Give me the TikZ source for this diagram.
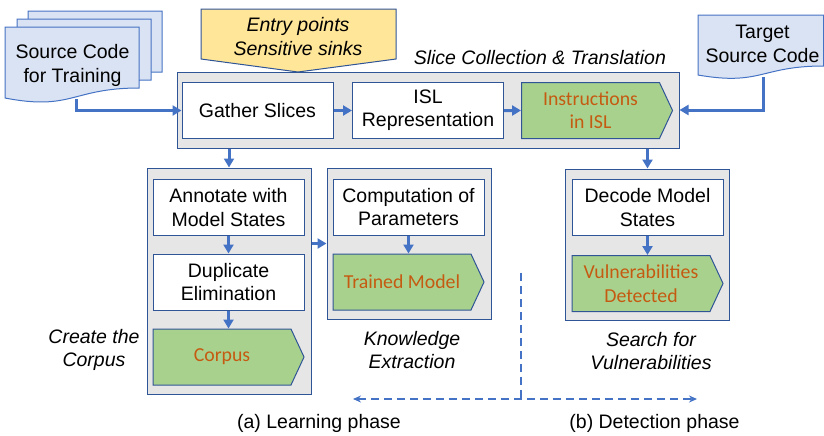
\documentclass[tikz,border=0pt]{standalone}
\usepackage{fontspec}
\setmainfont{Liberation Sans}
\newfontfamily\calibri{Carlito}
\usetikzlibrary{arrows.meta,shapes.symbols}
\definecolor{linkblue}{HTML}{4472C4}
\definecolor{edgeblue}{HTML}{2F5597}
\definecolor{docfill}{HTML}{DAE3F3}
\definecolor{panelfill}{HTML}{E7E6E6}
\definecolor{resultfill}{HTML}{A9D18E}
\definecolor{resulttext}{HTML}{C55A11}
\definecolor{hintfill}{HTML}{FFE699}
\begin{document}
\begin{tikzpicture}[x=0.5pt, y=-0.5pt, >={Triangle[length=4.5pt,width=5pt]},
  font=\fontsize{9.75}{11.7}\selectfont,
  panelbox/.style={draw=edgeblue, line width=0.5pt, fill=panelfill, minimum width=82pt, inner sep=0pt},
  stepbox/.style={draw=edgeblue, line width=0.5pt, fill=white, minimum width=75.5pt, minimum height=28pt, align=center, inner sep=0pt},
  resultbox/.style={stepbox, signal, signal to=east, signal pointer angle=130, fill=resultfill, text=resulttext, font=\calibri\fontsize{9.9}{11.7}\selectfont},
  docbox/.style={draw=linkblue, line width=0.5pt, fill=docfill},
  hintbox/.style={draw=edgeblue, line width=0.5pt, fill=hintfill},
  caption/.style={font=\itshape\fontsize{9.75}{11.7}\selectfont, align=center},
  link/.style={->, linkblue, line width=1.5pt},
  phase/.style={linkblue, line width=0.6pt, dash pattern=on 4pt off 2.5pt}]
\useasboundingbox (0,0) rectangle (824,435);
% source documents
\foreach \l/\t in {28/11, 17/19, 5/27}
  \draw [docbox] (\l,\t) -- ({\l+134},\t) -- ({\l+134},{\t+61})
    .. controls ({\l+67},{\t+61}) and ({\l+67},{\t+84}) .. (\l,{\t+71}) -- cycle;
\node [align=center] (src) at (72.5,65.5) {Source Code\\for Training};
\draw [docbox] (698,15) -- (823.5,15) -- (823.5,66)
  .. controls (761,66) and (761,86) .. (698,75) -- cycle;
\node [align=center] (tgt) at (762.5,44) {Target\\Source Code};
\coordinate (src-foot) at (76,99);
\coordinate (tgt-foot) at (763,77);
% hints
\draw [hintbox] (201,9) -- (396,9) -- (396,59) -- (298,72) -- (201,59) -- cycle;
\node [caption] (hint) at (298,36.5) {Entry points\\Sensitive sinks};
% panels
\node [panelbox, minimum width=251pt, minimum height=38pt] (slice) at (428,110) {};
\node [panelbox, minimum height=113pt] (corpusbox) at (229,281) {};
\node [panelbox, minimum height=75.5pt] (knowbox) at (409,243.5) {};
\node [panelbox, minimum height=75.5pt] (searchbox) at (647.5,244.5) {};
% steps
\node [stepbox] (gather) at (257.5,110.5) {Gather Slices};
\node [stepbox] (isl) at (428,110.5) {ISL\\Representation};
\node [resultbox] (instr) at (590.5,110.5) {Instructions\\in ISL};
\node [stepbox] (annot) at (228.5,207.5) {Annotate with\\Model States};
\node [stepbox] (dup) at (228.5,282) {Duplicate\\Elimination};
\node [resultbox] (corpus) at (222,357) {Corpus};
\node [stepbox] (comp) at (408.5,207) {Computation of\\Parameters};
\node [resultbox] (trained) at (402,282) {Trained Model};
\node [stepbox] (decode) at (647.5,207.5) {Decode Model\\States};
\node [resultbox] (vuln) at (641,283.5) {Vulnerabilities\\Detected};
% captions
\node [caption, anchor=base east] (slicecap) at (673,64) {Slice Collection \& Translation};
\node [caption] (corpuscap) at (94,350) {Create the\\Corpus};
\node [caption] (knowcap) at (412,350) {Knowledge\\Extraction};
\node [caption] (searchcap) at (651,351) {Search for\\Vulnerabilities};
\node (learnlbl) at (319,423) {(a) Learning phase};
\node (detectlbl) at (654.5,423) {(b) Detection phase};
% links
\draw [link] (src-foot) |- (gather);
\draw [link] (tgt-foot) |- (slice.east);
\draw [link] (gather) -- (isl);
\draw [link] (isl) -- (instr);
\draw [link] (corpusbox.north |- slice.south) -- (corpusbox);
\draw [link] (searchbox.north |- slice.south) -- (searchbox);
\draw [link] (annot) -- (dup);
\draw [link] (dup.south) -- (dup.south |- corpus.north);
\draw [link] (comp.south) -- (comp.south |- trained.north);
\draw [link] (decode.south) -- (decode.south |- vuln.north);
\draw [link] (corpusbox.east |- knowbox.west) -- (knowbox.west);
% phases
\coordinate (learn-end) at (353,399);
\coordinate (detect-end) at (697,399);
\coordinate (split-top) at (521,273);
\coordinate (split-foot) at (521,399);
\draw [phase, {Stealth[length=4pt,width=3.5pt]}-{Stealth[length=4pt,width=3.5pt]}] (learn-end) -- (detect-end);
\draw [phase] (split-top) -- (split-foot);
\end{tikzpicture}
\end{document}
